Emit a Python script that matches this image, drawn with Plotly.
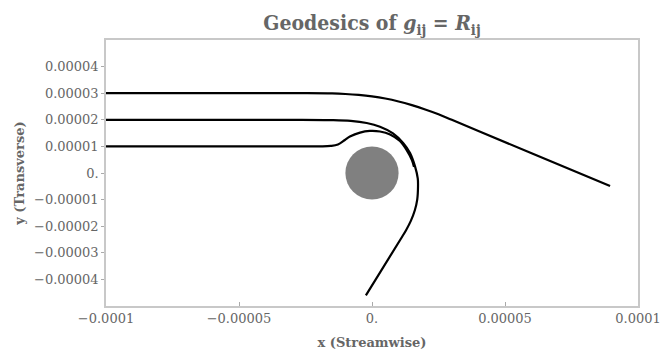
import plotly.graph_objects as go

# geodesic paths (units of 1e-6)
path_top_x = [-100, -40, -25, -15, -10, -5, 0, 5, 10, 15, 20, 25, 30, 40, 60, 89.5]
path_top_y = [30, 30, 30, 29.9, 29.7, 29.35, 28.8, 28.0, 26.9, 25.5, 23.9, 22.1, 20.0, 15.8, 7.4, -4.9]

path_mid_x = [-100, -30, -16, -8, -2, 3, 7.9, 11.7, 14.3, 16.2, 17.2, 17.3, 17.0, 16.1, 14.6, 12.8, 10.8, -2.3]
path_mid_y = [20, 20, 19.9, 19.6, 18.8, 17.4, 14.9, 11.3, 7.5, 2.4, -2, -5, -10, -14, -18, -21.5, -24.8, -46]

path_low_x = [-100, -30, -15.5, -12.8, -10.2, -8.3, -4.5, -0.8, 3, 6.8, 10.5, 13.2, 15, 15.8]
path_low_y = [10, 10, 10.2, 10.7, 12.4, 13.7, 15.2, 15.8, 15.6, 14.5, 12, 8.3, 4.9, 2.3]

obstacle_r = 10  # circle radius, 1e-6

x_ticks = [-1e-4, -5e-5, 0, 5e-5, 1e-4]
x_tick_text = ["\u22120.0001", "\u22120.00005", "0.", "0.00005", "0.0001"]
y_ticks = [4e-5, 3e-5, 2e-5, 1e-5, 0, -1e-5, -2e-5, -3e-5, -4e-5]
y_tick_text = ["0.00004", "0.00003", "0.00002", "0.00001", "0.",
               "\u22120.00001", "\u22120.00002", "\u22120.00003", "\u22120.00004"]

scale = 1e-6
fig = go.Figure()

for xs, ys in [(path_top_x, path_top_y), (path_mid_x, path_mid_y), (path_low_x, path_low_y)]:
    fig.add_trace(go.Scatter(
        x=[v * scale for v in xs],
        y=[v * scale for v in ys],
        mode="lines",
        line=dict(color="black", width=2.2, shape="spline", smoothing=1.0),
        showlegend=False,
    ))

fig.add_shape(
    type="circle", xref="x", yref="y",
    x0=-obstacle_r * scale, x1=obstacle_r * scale,
    y0=-obstacle_r * scale, y1=obstacle_r * scale,
    fillcolor="#808080", line=dict(width=0), layer="below",
)

font_family = "DejaVu Serif"
grey = "#666666"

fig.update_layout(
    width=662, height=350,
    margin=dict(l=106, r=24, t=40, b=44, autoexpand=False),
    plot_bgcolor="white", paper_bgcolor="white",
    font=dict(family=font_family, color=grey, size=13),
    title=dict(
        text="<b>Geodesics of <i>g</i><sub>ij</sub> = <i>R</i><sub>ij</sub></b>",
        x=372 / 662, xanchor="center",
        y=1 - 23 / 350, yanchor="middle",
        font=dict(family="DejaVu Serif Condensed, DejaVu Serif", size=21, color=grey),
    ),
)

fig.update_xaxes(
    range=[-1e-4, 1e-4], tickvals=x_ticks, ticktext=x_tick_text,
    showgrid=False, zeroline=False, automargin=False,
    showline=True, mirror=True, linecolor="#c8c8c8", linewidth=1.5,
    ticks="inside", ticklen=4, tickcolor="#aaaaaa",
    title=dict(text="<b>x (Streamwise)</b>", standoff=13, font=dict(size=13, color=grey)),
)
fig.update_yaxes(
    range=[-5e-5, 5e-5], tickvals=y_ticks, ticktext=y_tick_text,
    showgrid=False, zeroline=False, automargin=False,
    showline=True, mirror=True, linecolor="#c8c8c8", linewidth=1.5,
    ticks="outside", ticklen=3, tickcolor="#aaaaaa",
    title=dict(text="<b>y (Transverse)</b>", standoff=6, font=dict(size=13, color=grey)),
)

# drop the default 8px body margin so the figure fills the window exactly
fig.write_html("out.html", config={"displayModeBar": False},
               post_script="document.body.style.margin = '0';")
